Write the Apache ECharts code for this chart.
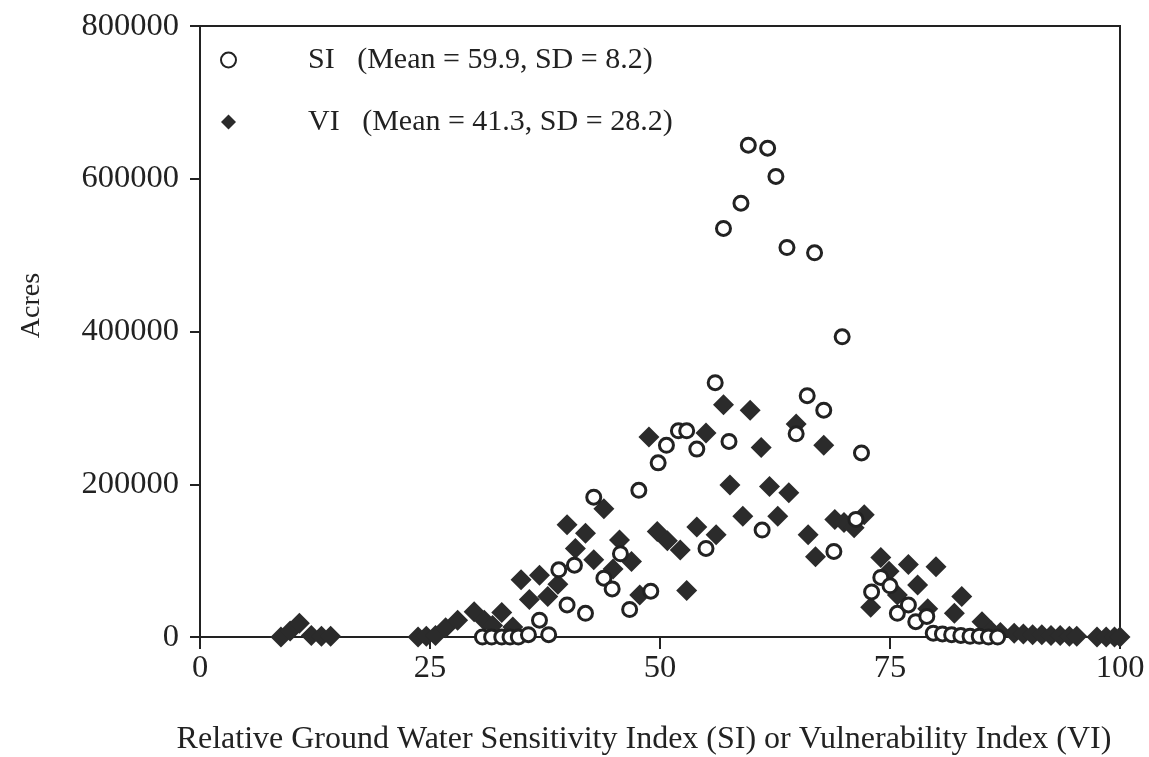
<!DOCTYPE html>
<html>
<head>
<meta charset="utf-8">
<script src="https://cdn.jsdelivr.net/npm/echarts@6/dist/echarts.min.js"></script>
<style>html,body{margin:0;padding:0;background:#fff}#c{width:1149px;height:757px}</style>
</head>
<body>
<div id="c"></div>
<script>
// Index values and acres (thousands)
const siX = [30.7,31.7,32.8,33.7,34.6,35.7,36.9,37.9,39.0,39.9,40.7,41.9,42.8,43.9,44.8,45.7,46.7,47.7,49.0,49.8,50.7,52.0,52.9,54.0,55.0,56.0,56.9,57.5,58.8,59.6,61.1,61.7,62.6,63.8,64.8,66.0,66.8,67.8,68.9,69.8,71.3,71.9,73.0,74.0,75.0,75.8,77.0,77.8,79.0,79.7,80.7,81.7,82.7,83.7,84.7,85.7,86.7];
const siY = [0,0,0,0,0,3,22,3,88,42,94,31,183,77,63,109,36,192,60,228,251,270,270,246,116,333,535,256,568,644,140,640,603,510,266,316,503,297,112,393,154,241,59,78,67,31,42,20,27,5,4,3,2,1,1,0,0];
const viX = [8.8,9.8,10.8,12.1,13.2,14.2,23.7,24.6,25.6,26.7,28.0,29.8,30.9,31.8,32.8,34.0,34.9,35.8,36.9,37.8,38.9,39.9,40.8,41.9,42.8,43.9,44.9,45.6,46.9,47.8,48.8,49.7,50.8,52.2,52.9,54.0,55.0,56.1,56.9,57.6,59.0,59.8,61.0,61.9,62.8,64.0,64.8,66.1,66.9,67.8,69.0,70.0,71.1,72.2,72.9,74.0,74.9,75.8,77.0,78.0,79.1,80.0,82.0,82.8,85.0,86.0,87.0,88.5,89.5,90.5,91.5,92.5,93.5,94.5,95.3,97.5,98.5,99.4,100];
const viY = [0,8,18,2,1,1,0,1,2,12,22,33,22,15,32,13,75,49,81,53,69,147,116,136,101,168,89,127,99,55,262,138,126,114,61,144,267,134,304,199,158,297,248,197,158,189,279,134,105,251,154,150,143,160,39,104,86,55,95,68,37,92,31,53,20,8,6,5,4,3,3,2,2,1,1,0,0,0,0,0];
const xTicks = [0,25,50,75,100];
const yTicks = [0,200000,400000,600000,800000];
const siName = 'SI   (Mean = 59.9, SD = 8.2)';
const viName = 'VI   (Mean = 41.3, SD = 28.2)';

const pairs = (xs, ys) => xs.map((x, i) => [x, ys[i] * 1000]);
const font = 'Liberation Serif';
const chart = echarts.init(document.getElementById('c'));
chart.setOption({
  animation: false,
  backgroundColor: '#fff',
  grid: {left: 200, right: 29, top: 26, bottom: 120, show: true, borderColor: '#222', borderWidth: 2,
         containLabel: false, outerBoundsMode: 'none'},
  legend: {
    orient: 'vertical', left: 215, top: 40, itemGap: 32, itemWidth: 15, itemHeight: 15,
    data: [siName, viName],
    textStyle: {fontFamily: font, fontSize: 30, color: '#222', padding: [0, 0, 0, 67]}
  },
  xAxis: {
    type: 'value', min: xTicks[0], max: xTicks[xTicks.length - 1], interval: 25,
    name: 'Relative Ground Water Sensitivity Index (SI) or Vulnerability Index (VI)',
    nameLocation: 'middle', nameGap: 87,
    nameTextStyle: {fontFamily: font, fontSize: 32, color: '#222', padding: [0, 32, 0, 0]},
    axisLine: {lineStyle: {color: '#222', width: 2}},
    axisTick: {show: true, inside: false, length: 12, lineStyle: {color: '#222', width: 2}},
    axisLabel: {fontFamily: font, fontSize: 32.5, color: '#222', margin: 15},
    splitLine: {show: false}
  },
  yAxis: {
    type: 'value', min: yTicks[0], max: yTicks[yTicks.length - 1], interval: 200000,
    name: 'Acres', nameLocation: 'middle', nameGap: 154, nameRotate: 90,
    nameTextStyle: {fontFamily: font, fontSize: 28, color: '#222', padding: [0, 0, 0, 52]},
    axisLine: {lineStyle: {color: '#222', width: 2}},
    axisTick: {show: true, inside: false, length: 10, lineStyle: {color: '#222', width: 2}},
    axisLabel: {fontFamily: font, fontSize: 32.5, color: '#222', margin: 21, formatter: v => String(v)},
    splitLine: {show: false}
  },
  series: [
    {
      name: viName, type: 'scatter', symbol: 'diamond', symbolSize: 21,
      itemStyle: {color: '#2b2b2b', opacity: 1},
      data: pairs(viX, viY), z: 2
    },
    {
      name: siName, type: 'scatter', symbol: 'circle', symbolSize: 14,
      itemStyle: {color: '#fff', borderColor: '#222', borderWidth: 3, opacity: 1},
      data: pairs(siX, siY), z: 3
    }
  ]
});
</script>
</body>
</html>
